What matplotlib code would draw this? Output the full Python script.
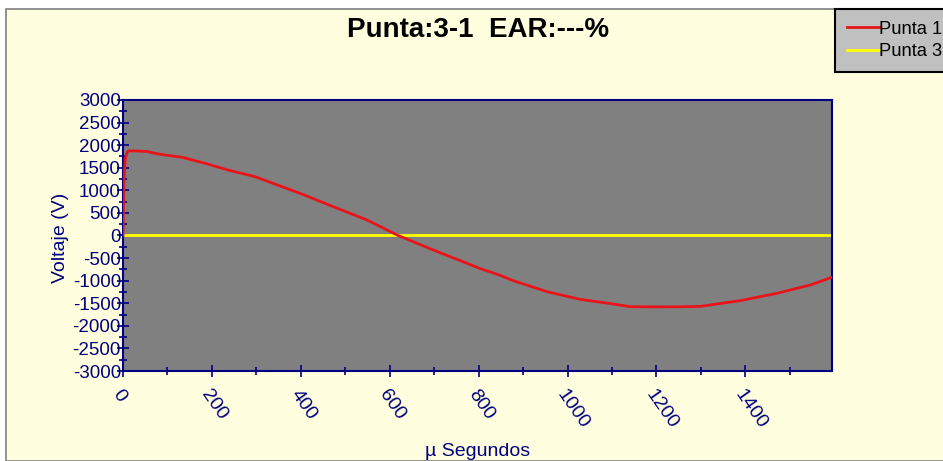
import numpy as np
import matplotlib.pyplot as plt
from matplotlib.patches import Rectangle
from matplotlib.ticker import MultipleLocator

# tiempo (us) y voltaje (V)
t_p1 = [0, 2, 5, 10, 15, 30, 54, 79, 133, 185, 236, 297, 358, 398, 432, 473,
        549, 619, 698, 774, 803, 848, 878, 954, 1028, 1103, 1141, 1200, 1253,
        1298, 1388, 1471, 1546, 1595]
v_p1 = [0, 1200, 1700, 1860, 1875, 1871, 1860, 1805, 1731, 1598, 1450, 1302,
        1080, 934, 800, 638, 343, 0, -321, -616, -730, -880, -1000, -1244,
        -1413, -1517, -1576, -1580, -1578, -1570, -1443, -1280, -1096, -925]
t_p3 = [0, 1595]
v_p3 = [0, 0]

title = "Punta:3-1  EAR:---%"
navy = "#000080"

plt.rcParams['font.family'] = ['Liberation Sans', 'DejaVu Sans']
plt.rcParams['axes.unicode_minus'] = False

fig = plt.figure(figsize=(9.43, 4.61), dpi=100)
fig.patch.set_facecolor('white')
bg = Rectangle((6 / 943, 0), 1, 1 - 9 / 461, transform=fig.transFigure,
               facecolor='#ffffe0', edgecolor='#808080', lw=1.2, zorder=-5)
fig.patches.append(bg)

ax = fig.add_axes([123 / 943, 1 - 371 / 461, 709 / 943, 271 / 461])
ax.set_facecolor('#808080')
ax.plot(t_p3, v_p3, color='#ffff00', lw=2, label='Punta 3', zorder=2)
ax.plot(t_p1, v_p1, color='#e8141a', lw=2, label='Punta 1', zorder=3)

ax.set_xlim(0, 1595)
ax.set_ylim(-3000, 3000)
ax.set_yticks(np.arange(-3000, 3001, 500))
ax.set_xticks(np.arange(0, 1401, 200))
ax.yaxis.set_minor_locator(MultipleLocator(250))
ax.xaxis.set_minor_locator(MultipleLocator(100))
ax.tick_params(axis='both', which='major', direction='inout', length=9, width=1.2,
               color=navy, labelcolor=navy, labelsize=13.5)
ax.tick_params(axis='both', which='minor', direction='inout', length=6, width=1.2,
               color=navy)
ax.tick_params(axis='y', which='major', pad=-3)
for s in ax.spines.values():
    s.set_color(navy)
    s.set_linewidth(1.5)

for lab in ax.get_xticklabels():
    lab.set_rotation(-55)
    lab.set_ha('left')
    lab.set_va('top')
    lab.set_rotation_mode('anchor')
ax.tick_params(axis='x', which='major', pad=7, labelsize=14)

ax.set_ylabel('Voltaje (V)', color=navy, fontsize=14)
ax.yaxis.set_label_coords(-0.0755, 0.49)
ax.set_xlabel('µ Segundos', color=navy, fontsize=14)
ax.xaxis.set_label_coords(0.5007, -0.265)

fig.text(478 / 943, 1 - 30 / 461, title, ha='center', va='center', fontsize=20,
         fontweight='bold', color='black')

h, l = ax.get_legend_handles_labels()
leg = fig.legend([h[1], h[0]], [l[1], l[0]], loc='upper left',
                 bbox_to_anchor=(835 / 943, 1 - 9 / 461), fontsize=13.2,
                 frameon=True, fancybox=False, facecolor='#c0c0c0', edgecolor='black',
                 framealpha=1, handlelength=1.75, handletextpad=0.0, borderpad=0.65,
                 labelspacing=0.3, borderaxespad=0)
leg.get_frame().set_linewidth(1.5)

fig.savefig('out.png', dpi=100)
